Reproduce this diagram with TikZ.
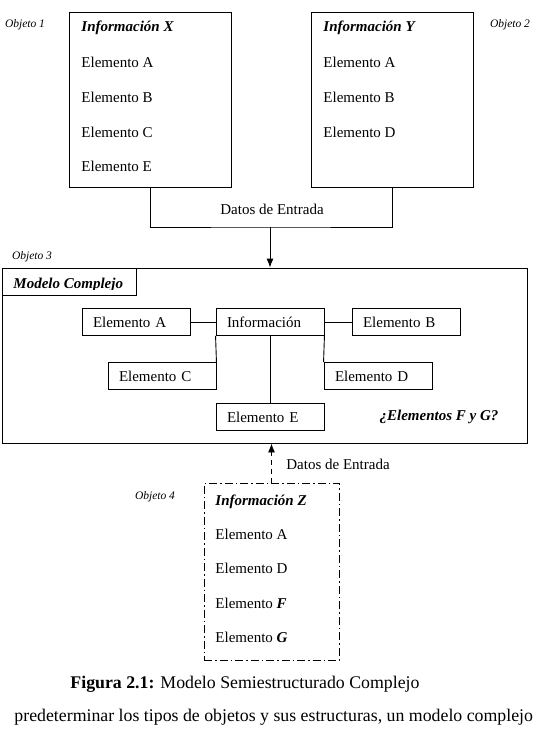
\documentclass[tikz,border=0pt]{standalone}
\usepackage{fontspec}
\setmainfont{Liberation Serif}
\usetikzlibrary{arrows.meta}
\begin{document}
\begin{tikzpicture}[x=1pt,y=-1pt,
  line width=0.9pt,
  bigbox/.style={draw,inner sep=0pt},
  txt/.style={anchor=base west,inner sep=0pt,font=\fontsize{15}{18}\selectfont},
  btxt/.style={txt,font=\fontsize{15}{18}\selectfont\bfseries\itshape},
  objlbl/.style={inner sep=0pt,font=\fontsize{11.5}{13}\selectfont\itshape},
  elbox/.style={draw,minimum height=27pt,text width=86pt,inner xsep=11pt,inner ysep=0pt,align=left,font=\fontsize{15}{18}\selectfont},
  arr/.style={-{Latex[length=9pt,width=7pt]}},
  dashdot/.style={dash pattern=on 8pt off 3pt on 1.5pt off 3pt}
]
\useasboundingbox (0,0) rectangle (534,736);

% Object 1
\node[bigbox,minimum width=162pt,minimum height=175pt] (X) at (150,99.5) {};
\node[objlbl] (o1) at (25,25) {Objeto 1};
\node[btxt] (x0) at (81,31.5) {Información X};
\node[txt] (x1) at (81,67.5) {Elemento A};
\node[txt] (x2) at (81,102) {Elemento B};
\node[txt] (x3) at (81,137) {Elemento C};
\node[txt] (x4) at (81,171.5) {Elemento E};

% Object 2
\node[bigbox,minimum width=162pt,minimum height=175pt] (Y) at (392,99.5) {};
\node[objlbl] (o2) at (510,25) {Objeto 2};
\node[btxt] (y0) at (323,31.5) {Información Y};
\node[txt] (y1) at (323,67.5) {Elemento A};
\node[txt] (y2) at (323,102) {Elemento B};
\node[txt] (y3) at (323,137) {Elemento D};

% junction
\coordinate (j) at (270,227);
\draw (X.south) |- (j) -| (Y.south);
\node[inner sep=0pt,font=\fontsize{15}{18}\selectfont] (d1) at (272,209) {Datos de Entrada};

% Object 3
\node[bigbox,minimum width=525pt,minimum height=175pt] (M) at (264.5,355.5) {};
\node[objlbl] (o3) at (32,257) {Objeto 3};
\draw[arr] (j) -- (j |- M.north);
\node[draw,minimum width=134pt,minimum height=27pt,inner sep=0pt] (tab) at (69,281.5) {};
\begin{scope}
\clip (2,268) rectangle (136,289);
\node[btxt] (mc) at (13,288) {Modelo Complejo};
\end{scope}

\node[elbox] (I) at (270,322) {Información};
\node[elbox] (A) at (136,322) {Elemento A};
\node[elbox] (B) at (406,322) {Elemento B};
\node[elbox] (C) at (162,376) {Elemento C};
\node[elbox] (D) at (378,376) {Elemento D};
\node[elbox] (E) at (270,417) {Elemento E};
\draw (A) -- (I);
\draw (I) -- (B);
\draw (I.south west) -- (C.north east);
\draw (I.south east) -- (D.north west);
\draw (I.south) -- (E.north);
\node[inner sep=0pt,font=\fontsize{15}{18}\selectfont\bfseries\itshape] (fg) at (439,417) {¿Elementos F y G?};

% Object 4
\node[draw,dashdot,minimum width=135pt,minimum height=177pt,inner sep=0pt] (Z) at (271.5,571.5) {};
\node[objlbl] (o4) at (155,497) {Objeto 4};
\draw[arr,dash pattern=on 5pt off 4pt] (Z.north) -- (Z.north |- M.south);
\node[inner sep=0pt,font=\fontsize{15}{18}\selectfont] (d2) at (338,464) {Datos de Entrada};
\node[btxt] (z0) at (215,505) {Información Z};
\node[txt] (z1) at (215,539) {Elemento A};
\node[txt] (z2) at (215,573) {Elemento D};
\node[txt] (z3) at (215,608) {Elemento \textbf{\textit{F}}};
\node[txt] (z4) at (215,642) {Elemento \textbf{\textit{G}}};

% caption and text
\node[anchor=base west,inner sep=0pt,font=\fontsize{17.8}{20}\selectfont] (cap) at (70,688) {\textbf{Figura 2.1:} Modelo Semiestructurado Complejo};
\node[anchor=base west,inner sep=0pt,font=\fontsize{17.8}{20}\selectfont] (body) at (14,721) {predeterminar los tipos de objetos y sus estructuras, un modelo complejo};
\end{tikzpicture}
\end{document}
